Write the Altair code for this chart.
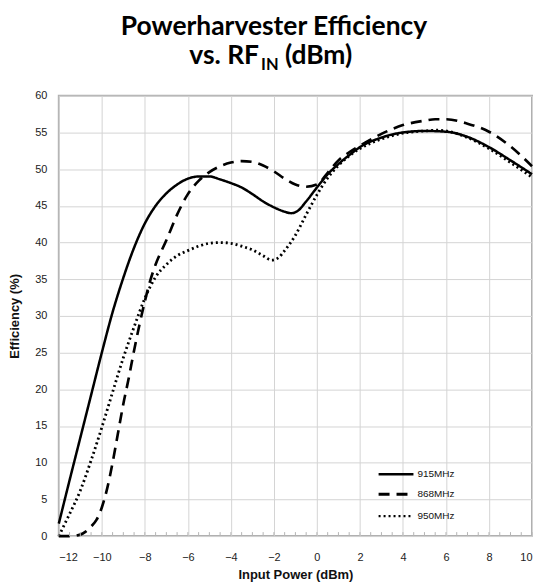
import altair as alt
import pandas as pd

series_names = ["915MHz", "868MHz", "950MHz"]

x_915 = [-12, -11.5, -11, -10.5, -10, -9.5, -9, -8.5, -8, -7.5, -7, -6.5, -6, -5.5, -5, -4.5,
         -4, -3.5, -3, -2.5, -2, -1.5, -1.2, -0.9, -0.5, 0, 0.5, 1, 1.5, 2, 3, 4, 5, 6, 7, 8,
         9, 10]
y_915 = [1.7, 7.6, 13.4, 19.2, 25.0, 30.5, 35.2, 39.3, 42.6, 45.0, 46.7, 47.9, 48.7, 49.0,
         49.0, 48.6, 48.1, 47.5, 46.6, 45.6, 44.8, 44.2, 44.0, 44.3, 45.6, 47.5, 49.3, 50.7,
         51.9, 53.0, 54.3, 55.0, 55.2, 55.1, 54.4, 53.0, 51.2, 49.3]

x_868 = [-12, -11.5, -11, -10.75, -10.5, -10.25, -10, -9.75, -9.5, -9.25, -9, -8.75, -8.5,
         -8.25, -8, -7.75, -7.5, -7, -6.5, -6, -5.5, -5, -4.5, -4, -3.5, -3, -2.5, -2, -1.5,
         -1, -0.5, 0, 0.5, 1, 1.5, 2, 3, 4, 5, 5.5, 6, 7, 8, 9, 10]
y_868 = [0, 0, 0.2, 0.6, 1.3, 2.2, 3.9, 6.5, 10.0, 14.0, 18.0, 21.5, 25.3,
         28.8, 32.0, 34.8, 37.0, 40.3, 43.8, 46.6, 48.4, 49.6, 50.4, 50.9, 51.1, 51.0, 50.5,
         49.7, 48.7, 47.9, 47.6, 47.9, 49.5, 51.2, 52.3, 53.2, 54.8, 56.0, 56.6, 56.8, 56.8,
         56.2, 55.1, 53.1, 50.4]

x_950 = [-12, -11.75, -11.5, -11, -10.5, -10, -9.5, -9, -8.5, -8, -7.5, -7, -6.5, -6, -5.5,
         -5, -4.5, -4, -3.5, -3, -2.5, -2.1, -1.8, -1.5, -1, -0.5, 0, 0.5, 1, 1.5, 2, 3, 4,
         5, 5.6, 6, 7, 8, 9, 10]
y_950 = [0, 1.5, 3.0, 6.2, 10.3, 14.8, 19.6, 24.3, 28.5, 32.4, 35.3, 37.0, 38.2, 38.9, 39.5,
         39.9, 40.0, 39.9, 39.5, 39.0, 38.2, 37.6, 37.9, 38.9, 41.0, 43.8, 46.5, 48.8, 50.5,
         51.8, 52.8, 54.1, 54.9, 55.2, 55.3, 55.2, 54.3, 52.8, 50.9, 48.9]

x_ticks = [-12, -10, -8, -6, -4, -2, 0, 2, 4, 6, 8, 10]
y_ticks = [0, 5, 10, 15, 20, 25, 30, 35, 40, 45, 50, 55, 60]
minor_ticks = [v / 2 for v in range(-24, 21)]

W, H = 475, 442
FONT = "Liberation Sans"
TFONT = "Lato"

frames = []
for name, xs, ys in [("915MHz", x_915, y_915), ("868MHz", x_868, y_868), ("950MHz", x_950, y_950)]:
    frames.append(pd.DataFrame({"x": xs, "y": ys, "series": name}))
df = pd.concat(frames, ignore_index=True)
one = pd.DataFrame({"k": [0]})

dash_range = [[1, 0], [11, 7], [2, 3]]
width_range = [2.5, 2.8, 2.2]

xscale = alt.Scale(domain=[-12, 10], nice=False)
yscale = alt.Scale(domain=[0, 60], nice=False)

lines = alt.Chart(df).mark_line(interpolate="monotone", color="black", strokeCap="butt").encode(
    x=alt.X("x:Q", scale=xscale,
            axis=alt.Axis(values=x_ticks, title="Input Power (dBm)", grid=True, gridColor="#d4d4d4",
                          domain=False, ticks=False, labelFont=FONT, labelFontSize=11,
                          labelColor="#222", labelPadding=16, titleFont=FONT, titleFontSize=13,
                          titleFontWeight="bold", titleColor="#111", titlePadding=6)),
    y=alt.Y("y:Q", scale=yscale,
            axis=alt.Axis(values=y_ticks, title="Efficiency (%)", grid=True, gridColor="#d4d4d4",
                          domain=False, ticks=False, labelFont=FONT, labelFontSize=11,
                          labelColor="#222", labelPadding=12, titleFont=FONT, titleFontSize=13,
                          titleFontWeight="bold", titleColor="#111", titlePadding=13)),
    strokeDash=alt.StrokeDash("series:N", scale=alt.Scale(domain=series_names, range=dash_range), legend=None),
    strokeWidth=alt.StrokeWidth("series:N", scale=alt.Scale(domain=series_names, range=width_range), legend=None),
    detail="series:N",
)

minor = alt.Chart(pd.DataFrame({"m": minor_ticks})).mark_rule(color="#b5b5b5", strokeWidth=1).encode(
    x=alt.X("m:Q", scale=xscale),
    y=alt.value(H),
    y2=alt.value(H - 4),
)

layers = [lines, minor]

legend_y = [380, 400, 422]
for i, name in enumerate(series_names):
    layers.append(
        alt.Chart(one).mark_rule(color="black", strokeWidth=width_range[i], strokeDash=dash_range[i],
                                 strokeCap="butt").encode(
            x=alt.value(321), x2=alt.value(356), y=alt.value(legend_y[i]))
    )
    layers.append(
        alt.Chart(one).mark_text(align="left", baseline="middle", font=FONT, fontSize=10,
                                 color="#111").encode(
            x=alt.value(360), y=alt.value(legend_y[i]), text=alt.value(name))
    )


def title_text(txt, x, y, size, align="left"):
    return alt.Chart(one).mark_text(align=align, baseline="alphabetic", font=TFONT, fontSize=size,
                                    fontWeight="bold", color="black").encode(
        x=alt.value(x), y=alt.value(y), text=alt.value(txt))


layers.append(title_text("Powerharvester Efficiency", 216, -61, 26.5, "center"))
layers.append(title_text("vs. RF", 201, -32, 26.5, "right"))
layers.append(title_text("IN", 203, -26, 16.5))
layers.append(title_text("(dBm)", 227, -32, 26.5))

chart = alt.layer(*layers).properties(
    width=W, height=H,
    autosize=alt.AutoSizeParams(type="none"),
    padding={"left": 51, "top": 87, "right": 2, "bottom": 45},
).configure_view(stroke="#b0b0b0", strokeWidth=2)

chart.save("out.html", embed_options={"renderer": "svg", "actions": False})
